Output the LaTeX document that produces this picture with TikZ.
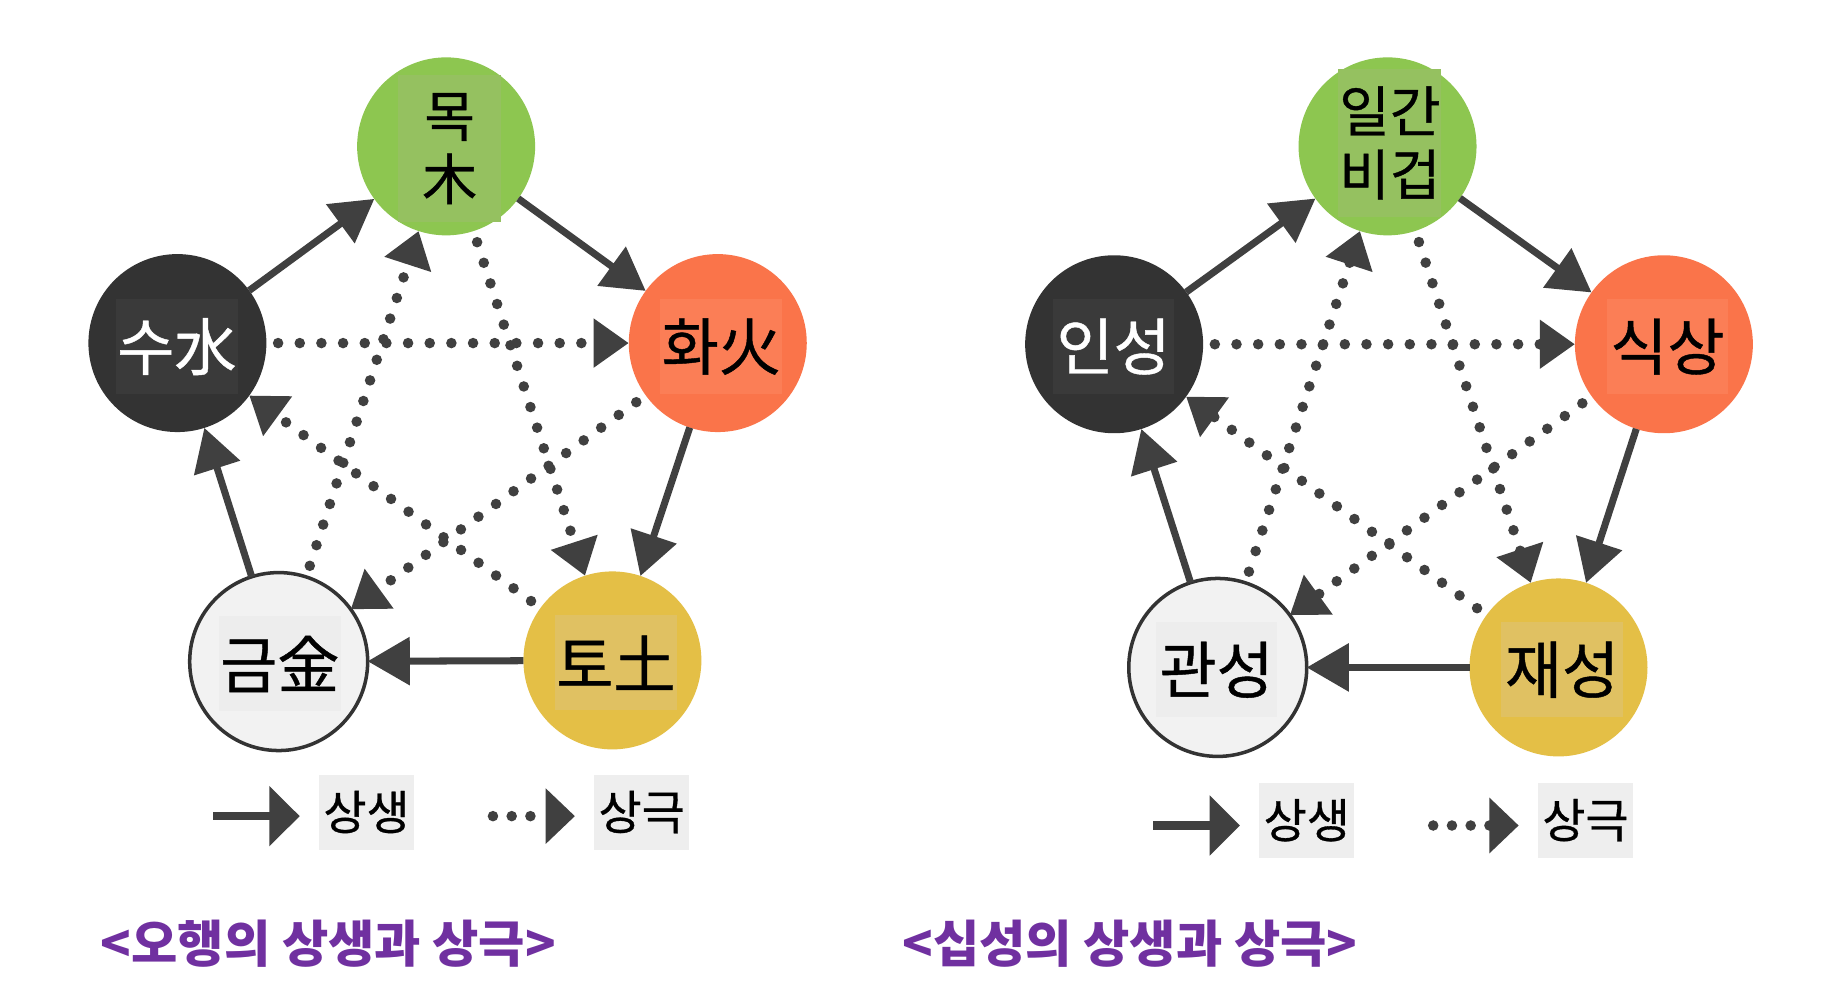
\documentclass[tikz,border=0pt]{standalone}
\usepackage{fontspec}
\setmainfont{Noto Sans CJK KR}
\newfontfamily\medkr{Noto Sans CJK KR}[FakeBold=0.7]
\usetikzlibrary{arrows.meta}
\definecolor{cmok}{HTML}{8DC650}
\definecolor{cmokbox}{HTML}{95C160}
\definecolor{chwa}{HTML}{FA744A}
\definecolor{chwabox}{HTML}{FB7E56}
\definecolor{cto}{HTML}{E4BF46}
\definecolor{ctobox}{HTML}{E0C162}
\definecolor{csu}{HTML}{333333}
\definecolor{csubox}{HTML}{3A3A3A}
\definecolor{cgeum}{HTML}{F2F2F2}
\definecolor{cgeumbox}{HTML}{EDEDED}
\definecolor{carr}{HTML}{404040}
\definecolor{cpurple}{HTML}{7030A0}
\definecolor{clegbox}{HTML}{EEEEEE}
\begin{document}
\begin{tikzpicture}[x=1pt,y=-1pt,
  elem/.style={circle, minimum size=152pt, inner sep=0pt, outer sep=0pt},
  lbl/.style={inner sep=0pt, align=center, minimum width=104pt, minimum height=81pt,
    font=\medkr\fontsize{53}{60}\selectfont},
  tall/.style={minimum width=88pt, minimum height=126pt, font=\medkr\fontsize{47}{54}\selectfont},
  sheng/.style={draw=carr, line width=6pt, -{Triangle[length=36pt,width=40pt]}},
  kebase/.style={draw=carr, line width=9pt, line cap=round, dash pattern=on 0pt off 18.5pt},
  ke/.style={kebase, shorten <=10pt, -{Triangle[length=30pt,width=40pt]}},
  legs/.style={draw=carr, line width=7pt, -{Triangle[length=26pt,width=50pt]}},
  legd/.style={draw=carr, line width=9pt, line cap=round, dash pattern=on 0pt off 16pt,
    -{Triangle[length=25pt,width=46pt]}},
  legbox/.style={fill=clegbox, inner sep=0pt, minimum width=81pt, minimum height=64pt,
    font=\medkr\fontsize{40}{46}\selectfont},
  caption/.style={text=cpurple, font=\bfseries\fontsize{43}{50}\selectfont}
]
\useasboundingbox[fill=white] (0,0) rectangle (1568,856);

% ---------- left diagram ----------
\node[elem, fill=cmok] (mok) at (381,125) {};
\node[elem, fill=chwa] (hwa) at (613,293) {};
\node[elem, fill=cto] (to) at (523,564) {};
\node[elem, fill=cgeum, draw=csu, line width=3pt] (geum) at (238,565) {};
\node[elem, fill=csu] (su) at (151.5,293) {};

\node[lbl, tall, fill=cmokbox] (mokt) at (384,127) {목\\木};
\node[lbl, fill=chwabox] (hwat) at (616,296) {화火};
\node[lbl, fill=ctobox] (tot) at (526,566) {토土};
\node[lbl, fill=cgeumbox] (geumt) at (239,567) {금金};
\node[lbl, fill=csubox, text=white] (sut) at (151,296) {수水};

\draw[sheng] (su) -- (mok);
\draw[sheng] (mok) -- (hwa);
\draw[sheng] (hwa) -- (to);
\draw[sheng] (to) -- (geum);
\draw[sheng] (geum) -- (su);

\draw[ke] (su) -- (hwa);
\draw[ke] (hwa) -- (geum);
\draw[ke] (geum) -- (mok);
\draw[ke] (mok) -- (to);
\draw[ke] (to) -- (su);

% legend left
\coordinate (la1) at (182,697);
\coordinate (la2) at (256,697);
\coordinate (lb1) at (421,697);
\coordinate (lb2) at (491,697);
\draw[legs] (la1) -- (la2);
\draw[legd] (lb1) -- (lb2);
\node[legbox] (lsa) at (313,693.5) {상생};
\node[legbox] (lsb) at (548,693.5) {상극};

\node[caption] (capl) at (280.5,806) {<오행의 상생과 상극>};

% ---------- right diagram ----------
\node[elem, fill=cmok] (ilgan) at (1185,125) {};
\node[elem, fill=chwa] (siksang) at (1421,294) {};
\node[elem, fill=cto] (jae) at (1331,570) {};
\node[elem, fill=cgeum, draw=csu, line width=3pt] (gwan) at (1040,570) {};
\node[elem, fill=csu] (in) at (951.5,294) {};

\node[lbl, tall, fill=cmokbox] (ilgant) at (1187,122) {일간\\비겁};
\node[lbl, fill=chwabox] (siksangt) at (1424,296) {식상};
\node[lbl, fill=ctobox] (jaet) at (1334,572) {재성};
\node[lbl, fill=cgeumbox] (gwant) at (1039,572) {관성};
\node[lbl, fill=csubox, text=white] (int) at (951,296) {인성};

\draw[sheng] (in) -- (ilgan);
\draw[sheng] (ilgan) -- (siksang);
\draw[sheng] (siksang) -- (jae);
\draw[sheng] (jae) -- (gwan);
\draw[sheng] (gwan) -- (in);

\draw[ke] (in) -- (siksang);
\draw[ke] (siksang) -- (gwan);
\draw[ke] (gwan) -- (ilgan);
\draw[ke] (ilgan) -- (jae);
\draw[ke] (jae) -- (in);

% legend right
\coordinate (ra1) at (985,705);
\coordinate (ra2) at (1059,705);
\coordinate (rb1) at (1224,705);
\coordinate (rb2) at (1297,705);
\draw[legs] (ra1) -- (ra2);
\draw[legd] (rb1) -- (rb2);
\node[legbox] (rsa) at (1116,700.5) {상생};
\node[legbox] (rsb) at (1354,700.5) {상극};

\node[caption] (capr) at (965,806) {<십성의 상생과 상극>};
\end{tikzpicture}
\end{document}
